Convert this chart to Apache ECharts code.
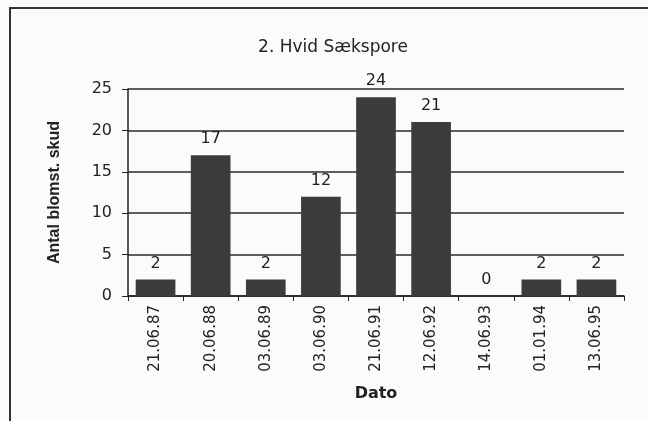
<!DOCTYPE html>
<html>
<head>
<meta charset="utf-8">
<script src="https://cdn.jsdelivr.net/npm/echarts@6/dist/echarts.min.js"></script>
<style>
  html, body { margin: 0; padding: 0; background: #fbfbf9; }
  #frame { position: absolute; left: 9px; top: 7px; width: 700px; height: 500px;
           border-left: 2px solid #333; border-top: 2px solid #333; }
  #main { position: absolute; left: 0; top: 0; width: 648px; height: 421px; }
</style>
</head>
<body>
<div id="frame"></div>
<div id="main"></div>
<script>
// data
var dates = ['21.06.87', '20.06.88', '03.06.89', '03.06.90', '21.06.91', '12.06.92', '14.06.93', '01.01.94', '13.06.95'];
var shoots = [2, 17, 2, 12, 24, 21, 0, 2, 2];
var yTicks = [0, 5, 10, 15, 20, 25];

var myChart = echarts.init(document.getElementById('main'));
var wide = 'DejaVu Sans, Verdana, sans-serif';
var bold = 'Liberation Sans, Arial, sans-serif';

option = {
	backgroundColor: 'transparent',
	textStyle: { fontFamily: wide },
	title: {
		text: '2. Hvid Sækspore',
		left: 328,
		top: 34,
		textAlign: 'center',
		textStyle: { fontSize: 17, fontWeight: 'normal', color: '#222', fontFamily: wide }
	},
	grid: { left: 128, right: 24, top: 89, bottom: 125 },
	xAxis: {
		type: 'category',
		data: dates,
		name: 'Dato',
		nameLocation: 'middle',
		nameGap: 90,
		nameTextStyle: { fontSize: 16, fontWeight: 'bold', color: '#222', fontFamily: wide },
		axisLine: { lineStyle: { color: '#222', width: 1.5 } },
		axisTick: { show: true, length: 5, interval: 0, lineStyle: { color: '#222' } },
		axisLabel: { rotate: 90, interval: 0, fontSize: 15, color: '#222', margin: 9 }
	},
	yAxis: {
		type: 'value',
		min: yTicks[0],
		max: yTicks[yTicks.length - 1],
		interval: 5,
		name: 'Antal blomst. skud',
		nameLocation: 'middle',
		nameGap: 65,
		nameTextStyle: { fontSize: 16, fontWeight: 'bold', color: '#222', fontFamily: bold },
		axisLine: { show: true, lineStyle: { color: '#222', width: 1.5 } },
		axisTick: { show: true, length: 6, lineStyle: { color: '#222' } },
		axisLabel: { fontSize: 16, color: '#222', margin: 16 },
		splitLine: { lineStyle: { color: '#2a2a2a', width: 1.5 } }
	},
	series: [
		{
			name: 'Antal',
			type: 'bar',
			data: shoots,
			barCategoryGap: '28%',
			itemStyle: { color: '#3a3d3c' },
			label: {
				show: true,
				position: 'top',
				distance: 8,
				fontSize: 16,
				color: '#222'
			}
		}
	]
};
myChart.setOption(option);
</script>
</body>
</html>
